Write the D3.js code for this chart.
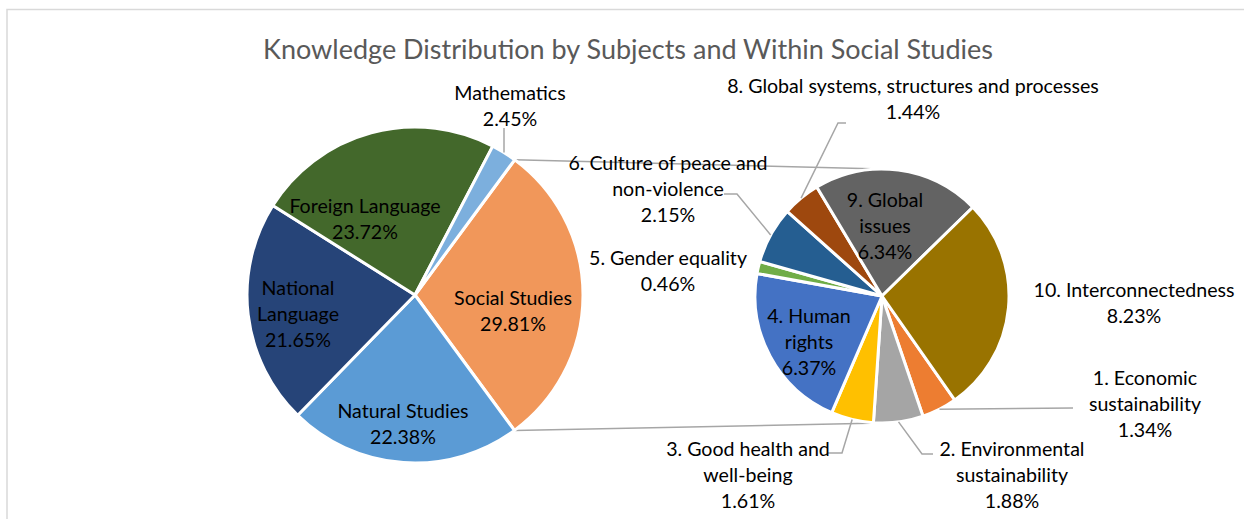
<!DOCTYPE html>
<html>
<head>
<meta charset="utf-8">
<script src="https://cdn.jsdelivr.net/npm/d3@7"></script>
<style>
  html, body { margin: 0; padding: 0; background: #fff; }
  svg { display: block; }
  text { font-family: Lato, "Liberation Sans", sans-serif; }
</style>
</head>
<body>
<svg id="chart" width="1244" height="519"></svg>
<script>
// ---------- DATA ----------
const chartTitle = "Knowledge Distribution by Subjects and Within Social Studies";

const mainCategories = ["Social Studies", "Natural Studies", "National Language", "Foreign Language", "Mathematics"];
const mainValues = [29.81, 22.38, 21.65, 23.72, 2.45];

const subCategories = [
  "1. Economic sustainability",
  "2. Environmental sustainability",
  "3. Good health and well-being",
  "4. Human rights",
  "5. Gender equality",
  "6. Culture of peace and non-violence",
  "8. Global systems, structures and processes",
  "9. Global issues",
  "10. Interconnectedness"
];
const subValues = [1.34, 1.88, 1.61, 6.37, 0.46, 2.15, 1.44, 6.34, 8.23];

// ---------- STYLE / LAYOUT ----------
const mainColors = ["#F1975A", "#5B9BD5", "#264478", "#43682B", "#7CAFDD"];
const subColors = ["#ED7D31", "#A5A5A5", "#FFC000", "#4472C4", "#70AD47", "#255E91", "#9E480E", "#636363", "#997300"];

const main = { cx: 415, cy: 295, r: 168, start: 36.4 };
const sub  = { cx: 882, cy: 296, r: 127, start: 145.0 };
const deg = Math.PI / 180;
const lineH = 26.4;
const fontSize = 19.6;

const mainLabelLayout = {
  "Social Studies":    { lines: ["Social Studies"], x: 513, y: 297 },
  "Natural Studies":   { lines: ["Natural Studies"], x: 403, y: 410 },
  "National Language": { lines: ["National", "Language"], x: 298, y: 287 },
  "Foreign Language":  { lines: ["Foreign Language"], x: 365, y: 205 },
  "Mathematics":       { lines: ["Mathematics"], x: 510, y: 92, leader: [[504, 128]] }
};
const subLabelLayout = {
  "1. Economic sustainability": { lines: ["1. Economic", "sustainability"], x: 1145, y: 377, leader: [[1073, 408]] },
  "2. Environmental sustainability": { lines: ["2. Environmental", "sustainability"], x: 1012, y: 448, leader: [[922, 454], [933, 454]] },
  "3. Good health and well-being": { lines: ["3. Good health and", "well-being"], x: 748, y: 448, leader: [[842, 453], [828, 453]] },
  "4. Human rights": { lines: ["4. Human", "rights"], x: 809, y: 315 },
  "5. Gender equality": { lines: ["5. Gender equality"], x: 668, y: 257 },
  "6. Culture of peace and non-violence": { lines: ["6. Culture of peace and", "non-violence"], x: 668, y: 162, leader: [[737, 194], [724, 194]] },
  "8. Global systems, structures and processes": { lines: ["8. Global systems, structures and processes"], x: 913, y: 85, leader: [[838, 123], [846, 123]] },
  "9. Global issues": { lines: ["9. Global", "issues"], x: 885, y: 199 },
  "10. Interconnectedness": { lines: ["10. Interconnectedness"], x: 1134, y: 289 }
};

const svg = d3.select("#chart");

// chart border
svg.append("rect")
  .attr("x", 7).attr("y", 9.5).attr("width", 1250).attr("height", 540)
  .attr("fill", "#fff").attr("stroke", "#D9D9D9").attr("stroke-width", 1.5);

// title
svg.append("text")
  .attr("x", 628).attr("y", 48)
  .attr("text-anchor", "middle").attr("dominant-baseline", "central")
  .attr("font-size", 27).attr("fill", "#595959")
  .text(chartTitle);

function makePie(startDeg) {
  return d3.pie().sort(null).value(d => d)
    .startAngle(startDeg * deg).endAngle(startDeg * deg + 2 * Math.PI);
}
const mainArcs = makePie(main.start)(mainValues);
const subArcs = makePie(sub.start)(subValues);

const arcMain = d3.arc().innerRadius(0).outerRadius(main.r);
const arcSub = d3.arc().innerRadius(0).outerRadius(sub.r);

function polar(c, r, ang) {
  return [c.cx + r * Math.sin(ang), c.cy - r * Math.cos(ang)];
}

// series lines
const ss = mainArcs[0];
const seriesLines = [
  [polar(main, main.r, ss.startAngle), [sub.cx, sub.cy - sub.r]],
  [polar(main, main.r, ss.endAngle), [sub.cx, sub.cy + sub.r]]
];
svg.append("g").selectAll("line").data(seriesLines).join("line")
  .attr("x1", d => d[0][0]).attr("y1", d => d[0][1])
  .attr("x2", d => d[1][0]).attr("y2", d => d[1][1])
  .attr("stroke", "#A6A6A6").attr("stroke-width", 1.5);

const gMain = svg.append("g").attr("transform", `translate(${main.cx},${main.cy})`);
gMain.selectAll("path").data(mainArcs).join("path")
  .attr("d", arcMain)
  .attr("fill", (d, i) => mainColors[i])
  .attr("stroke", "#fff").attr("stroke-width", 3).attr("stroke-linejoin", "round");

const gSub = svg.append("g").attr("transform", `translate(${sub.cx},${sub.cy})`);
gSub.selectAll("path").data(subArcs).join("path")
  .attr("d", arcSub)
  .attr("fill", (d, i) => subColors[i])
  .attr("stroke", "#fff").attr("stroke-width", 3).attr("stroke-linejoin", "round");

function drawLeader(c, a, layout) {
  if (!layout.leader) return;
  const mid = (a.startAngle + a.endAngle) / 2;
  const p0 = polar(c, c.r, mid);
  const pts = [p0].concat(layout.leader);
  svg.append("path")
    .attr("d", d3.line()(pts))
    .attr("fill", "none").attr("stroke", "#A6A6A6").attr("stroke-width", 1.5);
}
mainArcs.forEach((a, i) => drawLeader(main, a, mainLabelLayout[mainCategories[i]]));
subArcs.forEach((a, i) => drawLeader(sub, a, subLabelLayout[subCategories[i]]));

function drawLabel(layout, value) {
  const lines = layout.lines.concat([value.toFixed(2) + "%"]);
  const t = svg.append("text")
    .attr("text-anchor", "middle")
    .attr("font-size", fontSize).attr("fill", "#000");
  lines.forEach((ln, k) => {
    t.append("tspan")
      .attr("x", layout.x)
      .attr("y", layout.y + k * lineH)
      .attr("dominant-baseline", "central")
      .text(ln);
  });
}
mainValues.forEach((v, i) => drawLabel(mainLabelLayout[mainCategories[i]], v));
subValues.forEach((v, i) => drawLabel(subLabelLayout[subCategories[i]], v));
</script>
</body>
</html>
